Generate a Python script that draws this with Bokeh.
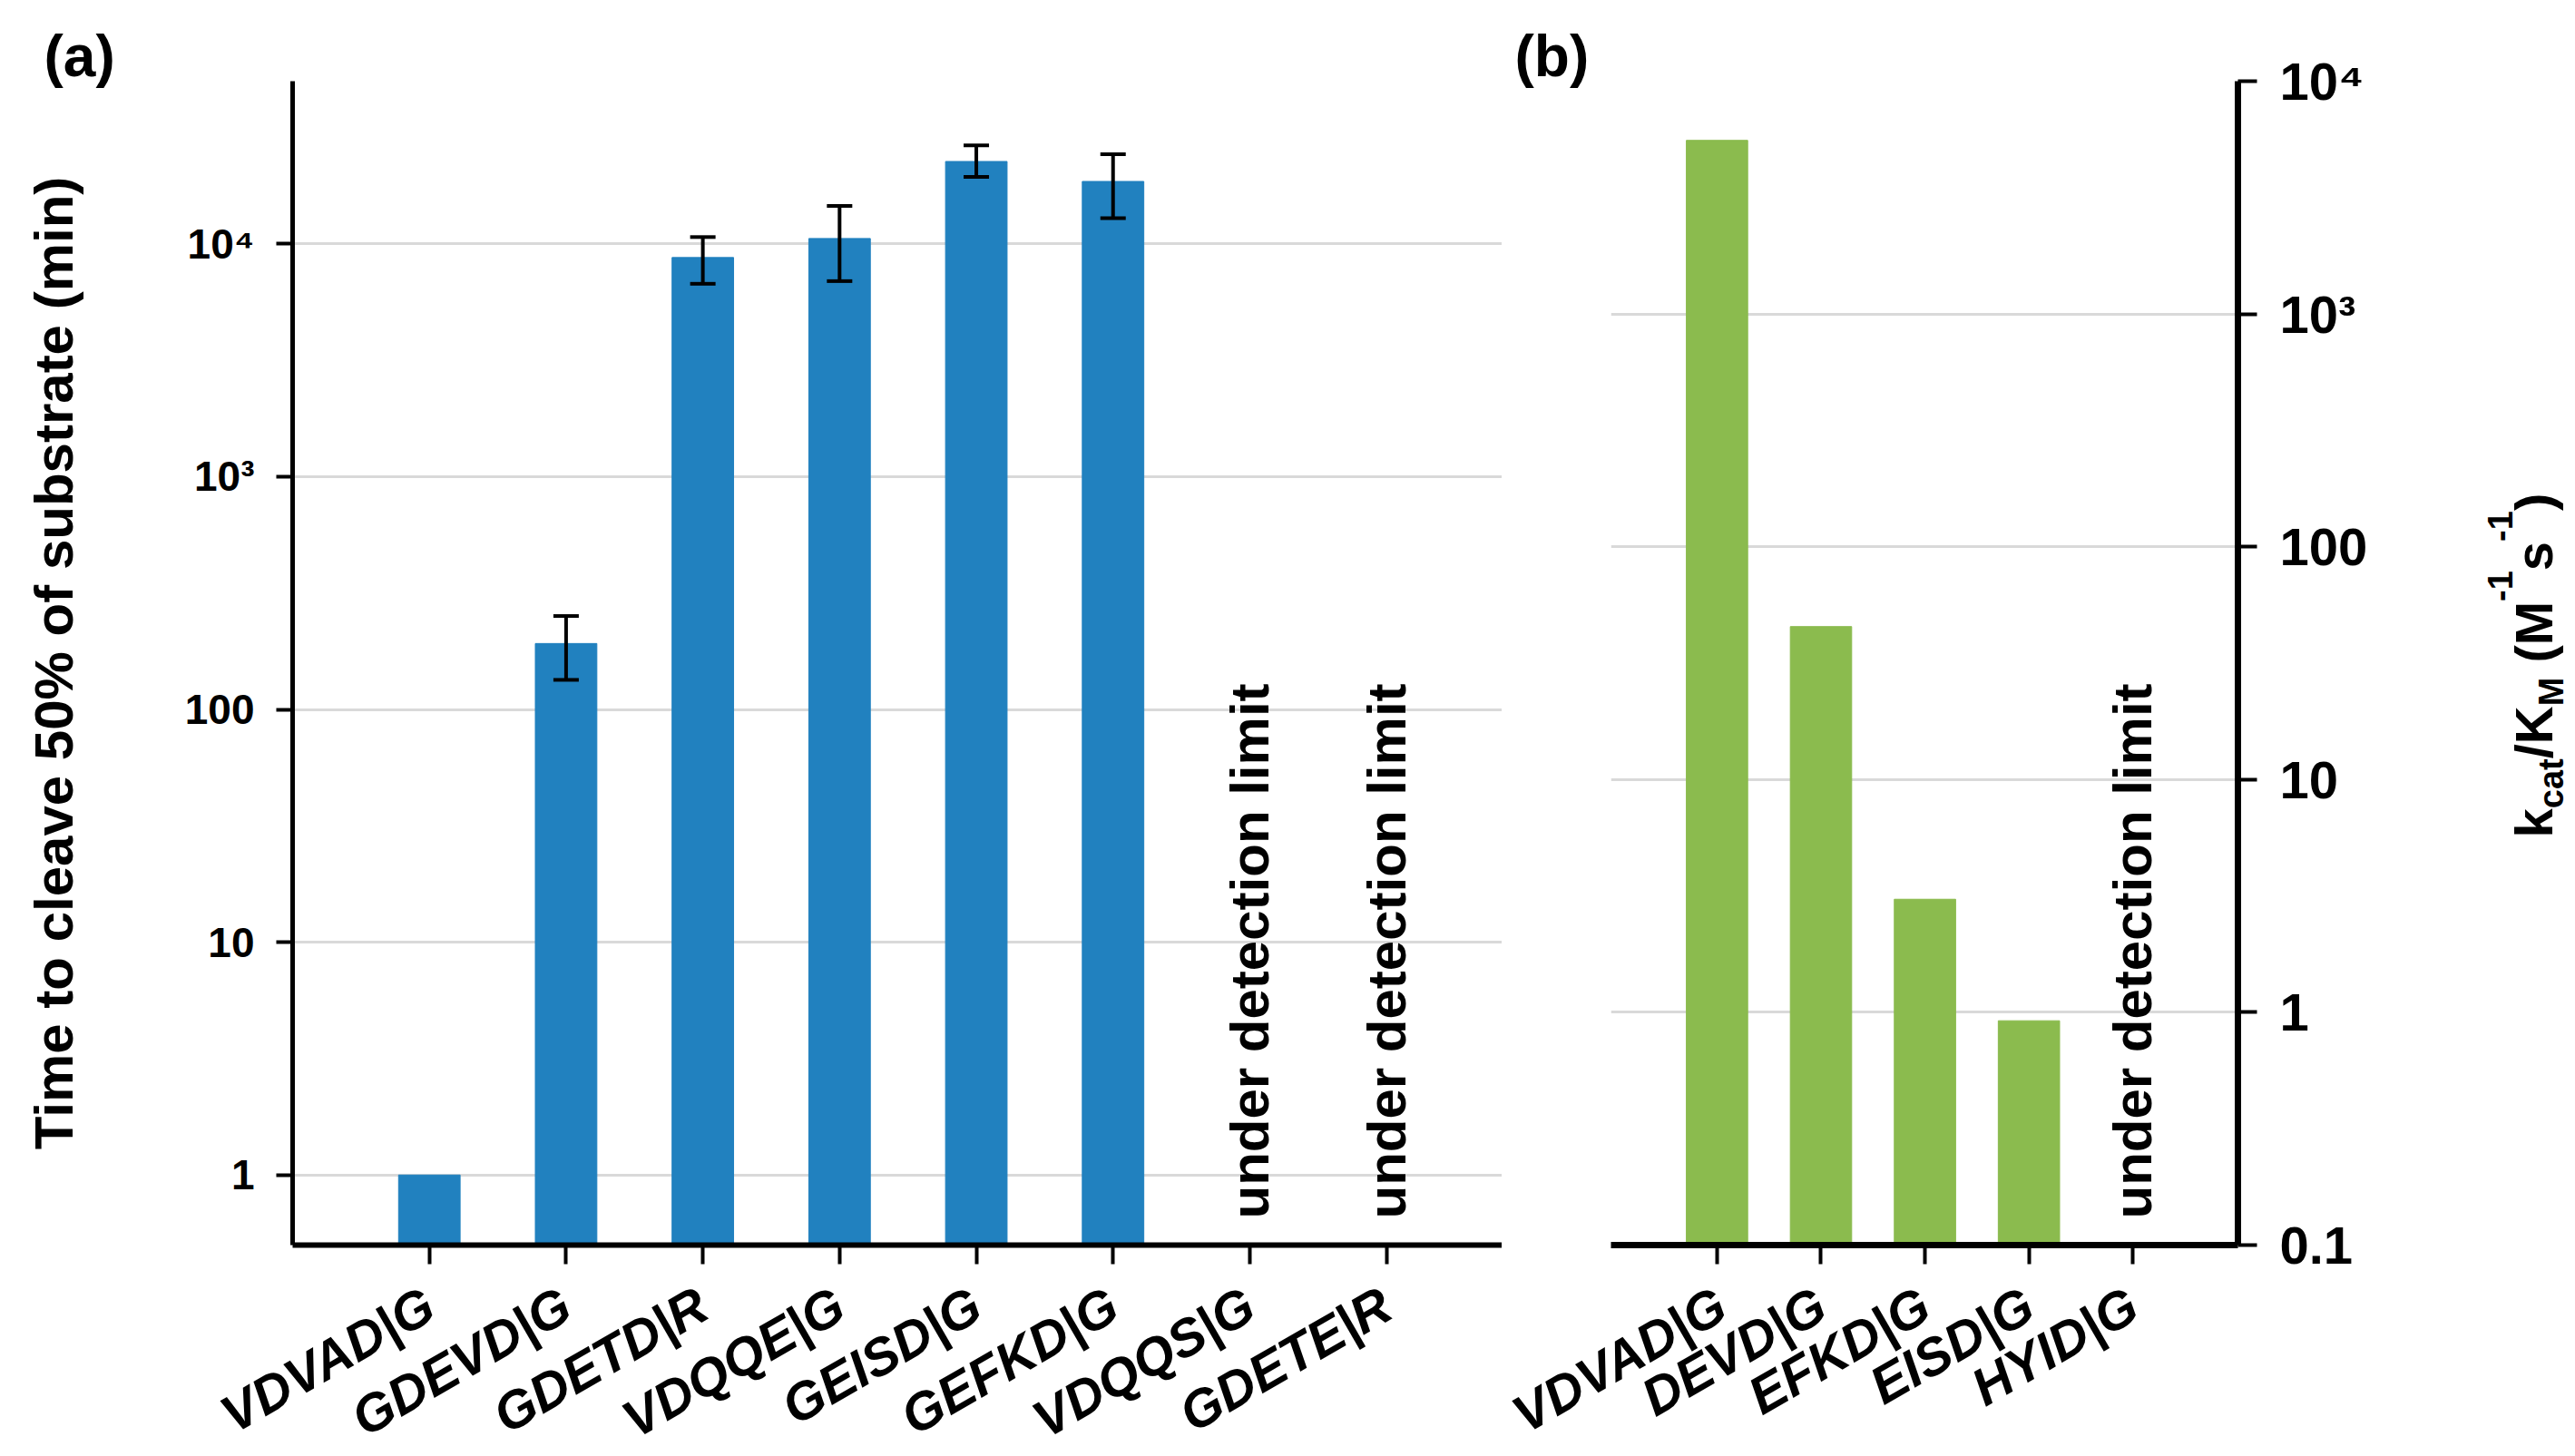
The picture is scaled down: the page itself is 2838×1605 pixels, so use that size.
import math
from bokeh.plotting import figure
from bokeh.models import ColumnDataSource, Range1d, FixedTicker, Whisker, TeeHead, Label
from bokeh.layouts import row
from bokeh.embed import file_html
from bokeh.resources import INLINE

FONT = "Liberation Sans"

# ---------------- data: panel (a) ----------------
cats_a = ["VDVAD|G", "GDEVD|G", "GDETD|R", "VDQQE|G", "GEISD|G", "GEFKD|G", "VDQQS|G", "GDETE|R"]
time50 = [1, 192, 8740, 10550, 22600, 18550, None, None]
err_low = [None, 134, 6740, 6920, 19400, 12900, None, None]
err_high = [None, 252, 10700, 14560, 26500, 24300, None, None]
ticks_a = [1, 10, 100, 1000, 10000]
tick_labels_a = ["1", "10", "100", "10³", "10⁴"]

# ---------------- data: panel (b) ----------------
cats_b = ["VDVAD|G", "DEVD|G", "EFKD|G", "EISD|G", "HYID|G"]
kcat_km = [5570, 45.4, 3.06, 0.92, None]
ticks_b = [0.1, 1, 10, 100, 1000, 10000]
tick_labels_b = ["0.1", "1", "10", "100", "10³", "10⁴"]

BLUE = "#2181BF"
GREEN = "#8BBB4E"
GRID = "#d9d9d9"
NOTE = "under detection limit"
H = 1602
TOP = 89
FH = 1283
BOT = H - TOP - FH


def style_common(p):
    p.outline_line_color = None
    p.background_fill_color = "white"
    p.border_fill_color = "white"
    p.xgrid.visible = False
    p.ygrid.grid_line_color = GRID
    p.ygrid.grid_line_width = 3
    for ax in p.xaxis + p.yaxis:
        ax.minor_tick_line_color = None
        ax.major_tick_in = 0
        ax.major_tick_line_width = 4
        ax.major_tick_line_color = "black"
        ax.axis_line_color = "black"
        ax.major_label_text_font = FONT
        ax.major_label_text_color = "black"
        ax.axis_label_text_font = FONT
        ax.axis_label_text_color = "black"


def style_title(p, text, offset):
    p.title.text = text
    p.title.align = "left"
    p.title.offset = offset
    p.title.standoff = -16
    p.title.text_font = FONT
    p.title.text_font_size = "64px"
    p.title.text_font_style = "bold"
    p.title.text_color = "black"


# ================= panel (a) =================
p1 = figure(frame_width=1333, frame_height=FH,
            min_border_left=322, min_border_right=0, min_border_top=TOP, min_border_bottom=BOT,
            x_range=Range1d(-1.0, 7.845), y_range=Range1d(0.5, 50000), y_axis_type="log",
            output_backend="svg", toolbar_location=None)
style_common(p1)
style_title(p1, "(a)", -274)

idx_a = [i for i, v in enumerate(time50) if v is not None]
src_a = ColumnDataSource(dict(x=idx_a, top=[time50[i] for i in idx_a]))
p1.vbar(x="x", top="top", bottom=p1.y_range.start, width=0.45, source=src_a,
        fill_color=BLUE, line_color=BLUE)

idx_e = [i for i, v in enumerate(err_low) if v is not None]
src_e = ColumnDataSource(dict(x=idx_e, lower=[err_low[i] for i in idx_e], upper=[err_high[i] for i in idx_e]))
p1.add_layout(Whisker(base="x", lower="lower", upper="upper", source=src_e, level="overlay",
                      line_color="black", line_width=4,
                      upper_head=TeeHead(size=28, line_width=4, line_color="black"),
                      lower_head=TeeHead(size=28, line_width=4, line_color="black")))

for i, v in enumerate(time50):
    if v is None:
        p1.add_layout(Label(x=i, y=29, x_units="data", y_units="screen", text=NOTE,
                            angle=math.pi / 2, text_align="left", text_baseline="middle",
                            text_font=FONT, text_font_size="60px", text_font_style="bold",
                            text_color="black"))

p1.yaxis.ticker = FixedTicker(ticks=ticks_a)
p1.ygrid.ticker = FixedTicker(ticks=ticks_a)
p1.yaxis.major_label_overrides = {t: l for t, l in zip(ticks_a, tick_labels_a)}
p1.yaxis.major_tick_out = 18
p1.yaxis.axis_line_width = 5
p1.yaxis.major_label_text_font_size = "46px"
p1.yaxis.major_label_text_font_style = "bold"
p1.yaxis.major_label_standoff = 24
p1.yaxis.axis_label = "Time to cleave 50% of substrate (min)"
p1.yaxis.axis_label_text_font_size = "60px"
p1.yaxis.axis_label_text_font_style = "bold"
p1.yaxis.axis_label_standoff = 108

p1.xaxis.ticker = FixedTicker(ticks=list(range(len(cats_a))))
p1.xaxis.major_label_overrides = {i: c for i, c in enumerate(cats_a)}
p1.xaxis.major_label_orientation = math.pi / 6
p1.xaxis.major_tick_out = 21
p1.xaxis.axis_line_width = 6
p1.xaxis.major_label_text_font_size = "58px"
p1.xaxis.major_label_text_font_style = "bold italic"
p1.xaxis.major_label_standoff = 40

# ================= panel (b) =================
p2 = figure(frame_width=691, frame_height=FH,
            min_border_left=120, min_border_right=184, min_border_top=TOP, min_border_bottom=BOT,
            x_range=Range1d(-1.02, 5.01), y_range=Range1d(0.1, 10000), y_axis_type="log",
            y_axis_location="right", output_backend="svg", toolbar_location=None)
style_common(p2)
style_title(p2, "(b)", -106)

idx_b = [i for i, v in enumerate(kcat_km) if v is not None]
src_b = ColumnDataSource(dict(x=idx_b, top=[kcat_km[i] for i in idx_b]))
p2.vbar(x="x", top="top", bottom=p2.y_range.start, width=0.59, source=src_b,
        fill_color=GREEN, line_color=GREEN)

for i, v in enumerate(kcat_km):
    if v is None:
        p2.add_layout(Label(x=i, y=29, x_units="data", y_units="screen", text=NOTE,
                            angle=math.pi / 2, text_align="left", text_baseline="middle",
                            text_font=FONT, text_font_size="60px", text_font_style="bold",
                            text_color="black"))

p2.yaxis.ticker = FixedTicker(ticks=ticks_b)
p2.ygrid.ticker = FixedTicker(ticks=ticks_b)
p2.yaxis.major_label_overrides = {t: l for t, l in zip(ticks_b, tick_labels_b)}
p2.yaxis.major_tick_out = 21
p2.yaxis.axis_line_width = 7
p2.yaxis.major_label_text_font_size = "58px"
p2.yaxis.major_label_text_font_style = "bold"
p2.yaxis.major_label_standoff = 25

p2.xaxis.ticker = FixedTicker(ticks=list(range(len(cats_b))))
p2.xaxis.major_label_overrides = {i: c for i, c in enumerate(cats_b)}
p2.xaxis.major_label_orientation = math.pi / 6
p2.xaxis.major_tick_out = 21
p2.xaxis.axis_line_width = 7
p2.xaxis.major_label_text_font_size = "58px"
p2.xaxis.major_label_text_font_style = "bold italic"
p2.xaxis.major_label_standoff = 40

# ===== right-hand axis title k_cat/K_M (M^-1 s^-1), in its own narrow canvas =====
P3W = 180
p3 = figure(frame_width=P3W, frame_height=FH, min_border_left=0, min_border_right=0,
            min_border_top=TOP, min_border_bottom=BOT,
            x_axis_location=None, y_axis_location=None,
            x_range=Range1d(0, 1), y_range=Range1d(0, 1),
            output_backend="svg", toolbar_location=None)
p3.outline_line_color = None
p3.grid.visible = False
p3.background_fill_color = "white"
p3.border_fill_color = "white"

EM = {"k": .556, "c": .556, "a": .556, "t": .333, "/": .278, "K": .722, "M": .833,
      " ": .278, "(": .333, "-": .333, "1": .556, "s": .556, ")": .333}
MAIN, SMALL = 58, 38
pieces = [("k", "main"), ("cat", "sub"), ("/K", "main"), ("M", "sub"), (" (M", "main"),
          ("-1", "sup"), ("s", "main"), ("-1", "sup"), (")", "main")]
base_x = 142
shift = {"main": 0, "sub": 19, "sup": -37}
ypos = (TOP + FH) - 923
for txt, kind in pieces:
    fs = MAIN if kind == "main" else SMALL
    lead = 0
    shown = txt
    if txt.startswith(" "):
        lead = EM[" "] * fs
        shown = txt.lstrip()
    p3.add_layout(Label(x=base_x + shift[kind], y=ypos + lead, x_units="screen", y_units="screen",
                        text=shown, angle=math.pi / 2, text_align="left", text_baseline="alphabetic",
                        text_font=FONT, text_font_size=f"{fs}px", text_font_style="bold",
                        text_color="black"))
    ypos += sum(EM[ch] for ch in txt) * fs

layout = row(p1, p2, p3)
open("out.html", "w").write(file_html(layout, INLINE))
